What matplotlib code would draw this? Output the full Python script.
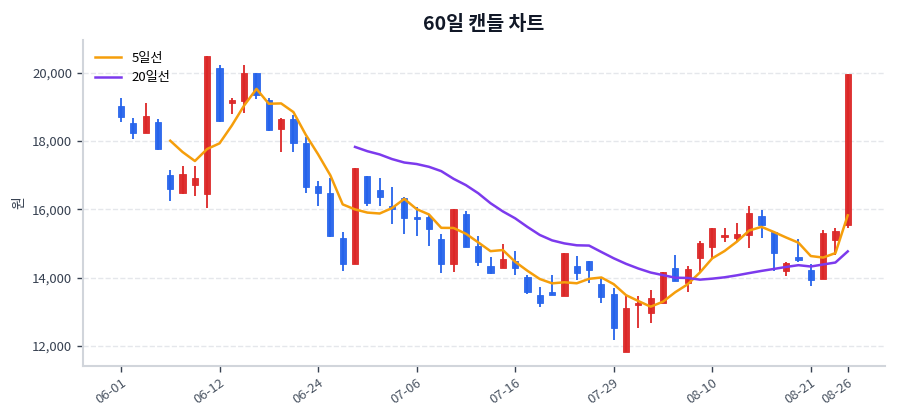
import matplotlib
matplotlib.use('Agg')
import matplotlib.pyplot as plt
import pandas as pd

plt.rcParams['font.family'] = ['Noto Sans CJK KR', 'DejaVu Sans']

dates = ['06-01', '06-02', '06-03', '06-04', '06-05', '06-08', '06-09', '06-10',
         '06-12', '06-15', '06-16', '06-17', '06-18', '06-19', '06-22', '06-23',
         '06-24', '06-25', '06-26', '06-29', '06-30', '07-01', '07-02', '07-03',
         '07-06', '07-07', '07-08', '07-09', '07-10', '07-13', '07-14', '07-15',
         '07-16', '07-17', '07-20', '07-21', '07-22', '07-23', '07-24', '07-27',
         '07-29', '07-30', '07-31', '08-03', '08-04', '08-05', '08-06', '08-07',
         '08-10', '08-11', '08-12', '08-13', '08-14', '08-17', '08-18', '08-19',
         '08-21', '08-24', '08-25', '08-26']

opens = [19033, 18526, 18251, 18564, 17011, 16475, 16727, 16455, 20155, 19112,
         19188, 19990, 19209, 18350, 18643, 17958, 16689, 16475, 15157, 14395,
         16982, 16572, 16103, 16329, 15790, 15772, 15127, 14395, 15860, 14931,
         14345, 14295, 14501, 14032, 13495, 13575, 13466, 14345, 14492, 13818,
         13516, 11834, 13202, 12977, 13252, 14295, 13856, 14571, 14911, 15204,
         15157, 15253, 15810, 15350, 14207, 14600, 14228, 13964, 15107, 15546]
highs = [19259, 18690, 19112, 18661, 17158, 17266, 17284, 20507, 20234, 19259,
         20234, 19990, 19259, 18690, 18769, 18134, 16836, 16932, 15350, 17208,
         16982, 16915, 16669, 16376, 16065, 15839, 15283, 16006, 15966, 15224,
         14618, 14990, 14793, 14081, 13721, 14081, 14717, 14647, 14492, 13985,
         13692, 13495, 13466, 13642, 14178, 14667, 14354, 15078, 15467, 15450,
         15596, 16112, 15986, 15350, 14471, 15127, 14404, 15400, 15450, 19971]
lows = [18556, 18057, 18235, 17744, 16258, 16446, 16405, 16036, 18574, 18790,
        18819, 19229, 18310, 17694, 17694, 16475, 16112, 15204, 14207, 14395,
        16103, 16103, 15576, 15283, 15224, 14931, 14149, 14178, 14893, 14354,
        14102, 14295, 14081, 13525, 13135, 13495, 13466, 13935, 13856, 13270,
        12177, 11834, 12537, 12684, 13252, 13914, 13575, 14131, 14571, 15057,
        15057, 14864, 15157, 14199, 14052, 14471, 13759, 13964, 14667, 15450]
closes = [18702, 18251, 18740, 17773, 16592, 17050, 16932, 20507, 18594, 19209,
          19990, 19355, 18330, 18643, 17940, 16669, 16493, 15233, 14395, 17208,
          16201, 16358, 16024, 15743, 15713, 15420, 14395, 16006, 14893, 14454,
          14131, 14559, 14278, 13575, 13252, 13495, 14717, 14131, 14228, 13446,
          12520, 13106, 13270, 13399, 14178, 13914, 14257, 15010, 15467, 15253,
          15283, 15889, 15546, 14717, 14442, 14521, 13935, 15321, 15379, 19971]

up_color = '#dc2626'
down_color = '#2563eb'

df = pd.DataFrame({'open': opens, 'high': highs, 'low': lows, 'close': closes})
ma5 = df['close'].rolling(5).mean()
ma20 = df['close'].rolling(20).mean()

fig = plt.figure(figsize=(9, 4.2), dpi=100)
ax = fig.add_axes([0.092, 0.129, 0.891, 0.776])

# candles: wick first, then body on top
for i, row in df.iterrows():
    c = up_color if row['close'] >= row['open'] else down_color
    ax.vlines(i, row['low'], row['high'], color=c, linewidth=1.3, zorder=2)
    bottom = min(row['open'], row['close'])
    height = max(abs(row['close'] - row['open']), 25)
    ax.bar(i, height, bottom=bottom, width=0.5, color=c,
           edgecolor=c, linewidth=0.6, alpha=0.95, zorder=3)

ax.plot(df.index, ma5, color='#f59e0b', linewidth=1.8, label='5일선', zorder=4)
ax.plot(df.index, ma20, color='#7c3aed', linewidth=1.8, label='20일선', zorder=4)

ticks = list(range(0, len(dates), 8)) + [len(dates) - 1]
ax.set_xticks(ticks)
ax.set_xticklabels([dates[t] for t in ticks], rotation=35, ha='right',
                   rotation_mode='anchor')
ax.set_xlim(-3.1, 62)
ax.set_ylim(11415, 20967)
ax.set_yticks([12000, 14000, 16000, 18000, 20000])
ax.yaxis.set_major_formatter(matplotlib.ticker.FuncFormatter(lambda v, p: f'{int(v):,}'))

ax.grid(axis='y', linestyle='--', color='#e5e7eb', linewidth=1)
ax.set_axisbelow(True)
for s in ['top', 'right']:
    ax.spines[s].set_visible(False)
for s in ['left', 'bottom']:
    ax.spines[s].set_color('#d1d5db')
    ax.spines[s].set_linewidth(1.5)
ax.tick_params(colors='#374151', labelsize=9.5, length=4, width=1)
ax.tick_params(axis='x', labelcolor='#4b5563')

ax.set_ylabel('원', color='#374151', fontsize=10)
ax.set_title('60일 캔들 차트', fontsize=14, fontweight='bold', color='#111827', pad=7)
ax.legend(loc='upper left', frameon=False, fontsize=9.5)

fig.savefig('out.png', dpi=100)
